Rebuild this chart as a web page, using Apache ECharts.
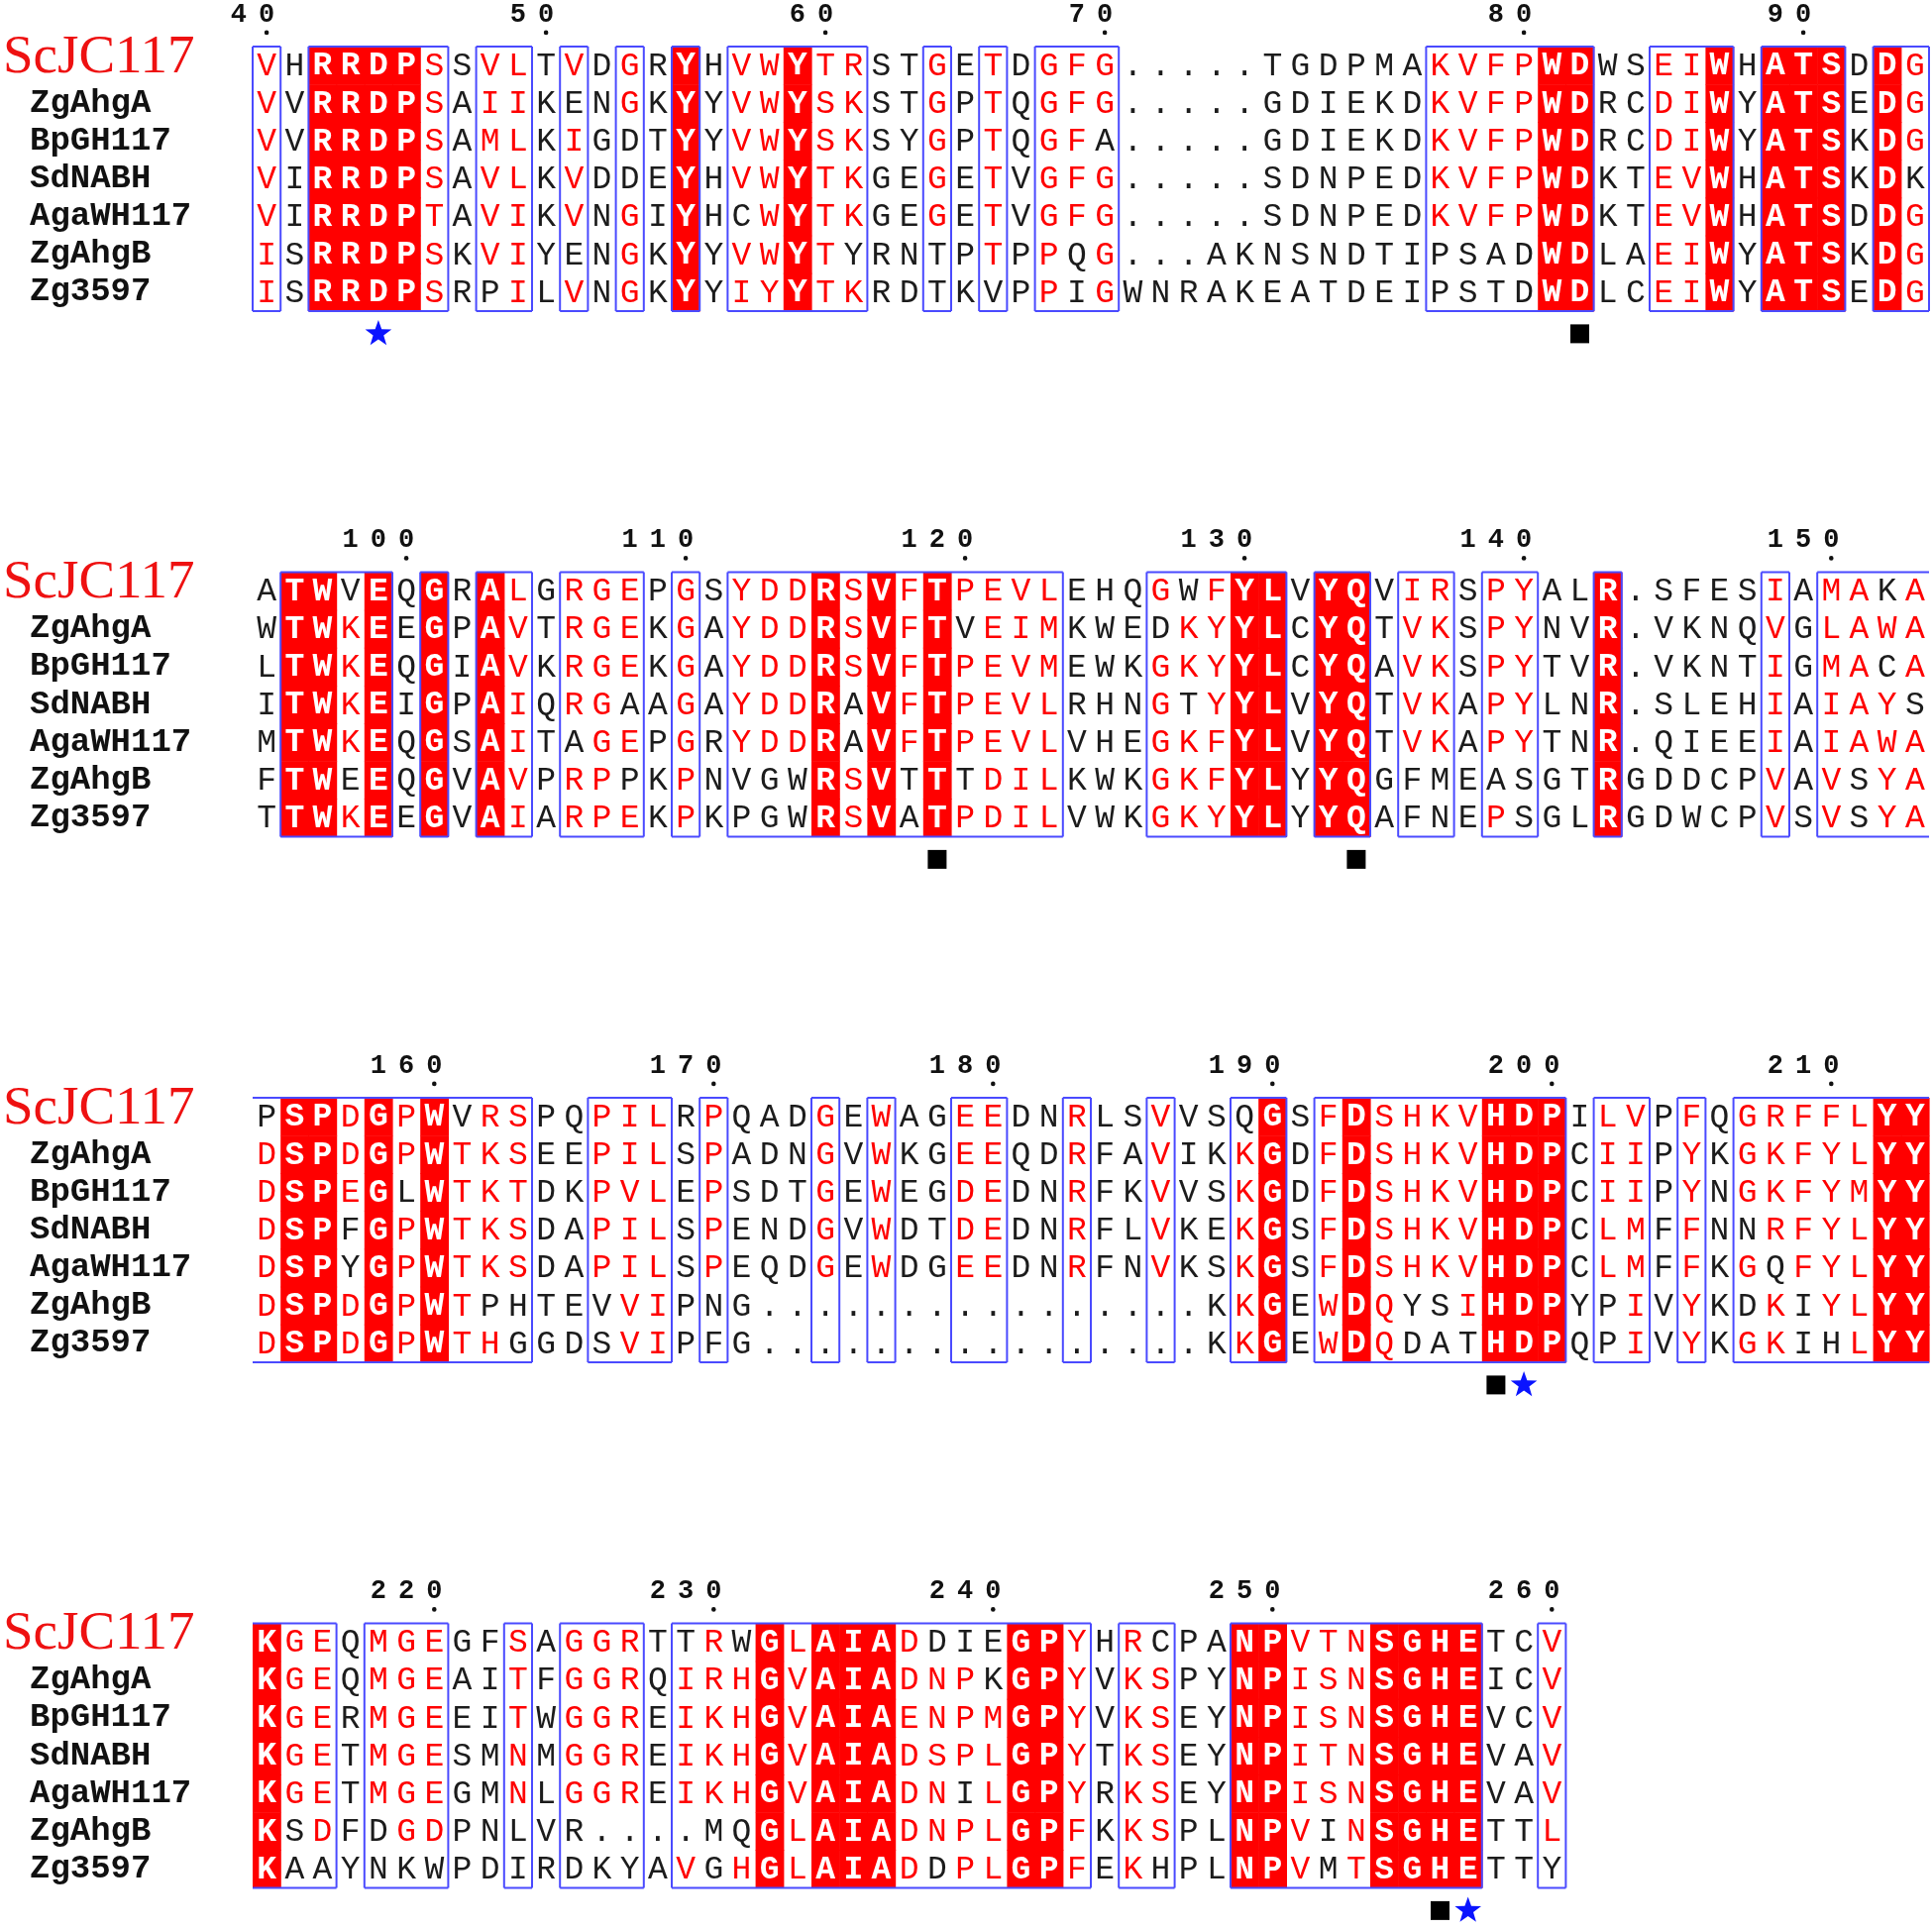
<!DOCTYPE html>
<html>
<head>
<meta charset="UTF-8">
<title>GH117 alignment</title>
<script src="https://cdn.jsdelivr.net/npm/echarts@6/dist/echarts.min.js"></script>
<style>
  html, body { margin: 0; background: #fff; }
  #main { width: 1950px; height: 1948px; }
</style>
</head>
<body>
<div id="main"></div>
<script>
// sequence names, top to bottom
var names = ['ScJC117', 'ZgAhgA', 'BpGH117', 'SdNABH', 'AgaWH117', 'ZgAhgB', 'Zg3597'];

// ScJC117 residue number of the first column of each block
var firstResidue = [40, 95, 154, 214];

// column class per block: R = strictly conserved (white on red), s = similar (red letters), - = none
var colClass = [
  ['s-RRRRs-ss', '-s-s-R-ssR', 'ss--s-s-ss', 's---------', '--ssssRR--', 'ssR-RRR-Rs'].join(''),
  ['-RRsR-R-Rs', '-sss-s-sss', 'RsRsRssss-', '--sssRR-RR', '-ss-ss--R-', '----s-ssss'].join(''),
  ['sRRsRsRsss', '--sss-s---', 's-s--ss--s', '--s--sR-sR', 'ssssRRR-ss', '-s-sssssRR'].join(''),
  ['Rss-sss--s', '-sss-sssRs', 'RRRssssRRs', '-ss--RRsss', 'RRRR--s'].join('')
];

// aligned sequences per block (same order as names)
// lower case = residue left black inside a similar column
var block1 = [
  'VHRRDPSSVLTVDGRY' + 'HVWYTRSTGETDGFG' + '.....' + 'TGDPMA' + 'KVFPWD' + 'WSEIWHATSDDG',
  'VVRRDPSAIIKeNGKY' + 'YVWYSKSTGPTQGFG' + '.....' + 'GDIEKD' + 'KVFPWD' + 'RCDIWYATSEDG',
  'VVRRDPSAMLKIGdTY' + 'YVWYSKSYGPTQGFa' + '.....' + 'GDIEKD' + 'KVFPWD' + 'RCDIWYATSKDG',
  'VIRRDPSAVLKVDdEY' + 'HVWYTKGEGETVGFG' + '.....' + 'SDNPED' + 'KVFPWD' + 'KTEVWHATSKDk',
  'VIRRDPTAVIKVNGIY' + 'HcWYTKGEGETVGFG' + '.....' + 'SDNPED' + 'KVFPWD' + 'KTEVWHATSDDG',
  'ISRRDPSKVIYeNGKY' + 'YVWYTyRNtPTPPqG' + '...AKNSNDTI' + 'psadWD' + 'LAEIWYATSKDG',
  'ISRRDPSRpILVNGKY' + 'YIYYTKRDtKvPPiG' + 'WNRAKEATDEI' + 'pstdWD' + 'LCEIWYATSEDG'
];
var block2 = [
  'ATWvEQGRALG' + 'RGEPGS' + 'YDDRSVFTPEVL' + 'EHQGwFYLV' + 'YQVIRSPYALR' + '.SFESIAMAkA',
  'WTWKEEGPAVT' + 'RGEKGA' + 'YDDRSVFTvEIM' + 'KWEdKYYLC' + 'YQTVKSPYNVR' + '.VKNQVGLAWA',
  'LTWKEQGIAVK' + 'RGEKGA' + 'YDDRSVFTPEVM' + 'EWKGKYYLC' + 'YQAVKSPYTVR' + '.VKNTIGMAcA',
  'ITWKEIGPAIQ' + 'RGaAGA' + 'YDDRaVFTPEVL' + 'RHNGtYYLV' + 'YQTVKAPYLNR' + '.SLEHIAIAYs',
  'MTWKEQGSAIT' + 'aGEPGR' + 'YDDRaVFTPEVL' + 'VHEGKFYLV' + 'YQTVKAPYTNR' + '.QIEEIAIAWA',
  'FTWeEQGVAVP' + 'RPpKPN' + 'vgwRSVtTtDIL' + 'KWKGKFYLY' + 'YQGfmEasGTR' + 'GDDCPVAVsYA',
  'TTWKEEGVAIA' + 'RPEKPK' + 'pgwRSVaTPDIL' + 'VWKGKYYLY' + 'YQAfnEPsGLR' + 'GDWCPVSVsYA'
];
var block3 = [
  'pSPDGPWvRS' + 'PQ' + 'PIL' + 'R' + 'PQADGEWAGEEDNRLSVVSqGS' + 'FDSHKVHDP' + 'ILVPFQ' + 'GRFFLYY',
  'DSPDGPWTKS' + 'EE' + 'PIL' + 'S' + 'PADNGVWKGEEQDRFAVIKKGD' + 'FDSHKVHDP' + 'CIIPYK' + 'GKFYLYY',
  'DSPEGlWTKT' + 'DK' + 'PVL' + 'E' + 'PSDTGEWEGDEDNRFKVVSKGD' + 'FDSHKVHDP' + 'CIIPYN' + 'GKFYMYY',
  'DSPfGPWTKS' + 'DA' + 'PIL' + 'S' + 'PENDGVWDTDEDNRFLVKEKGS' + 'FDSHKVHDP' + 'CLMFFN' + 'nRFYLYY',
  'DSPyGPWTKS' + 'DA' + 'PIL' + 'S' + 'PEQDGEWDGEEDNRFNVKSKGS' + 'FDSHKVHDP' + 'CLMFFK' + 'GqFYLYY',
  'DSPDGPWTph' + 'TE' + 'vVI' + 'P' + 'nG' + '........' + '........' + 'KKGE' + 'WDQysIHDP' + 'YpIVYK' + 'dKiYLYY',
  'DSPDGPWTHg' + 'GD' + 'sVI' + 'P' + 'fG' + '........' + '........' + 'KKGE' + 'WDQdatHDP' + 'QpIVYK' + 'GKihLYY'
];
var block4 = [
  'KGEQMGEGFSA' + 'GGRTtRwG' + 'LAIADdieGPY' + 'HRcPA' + 'NPVTNSGHE' + 'TCV',
  'KGEQMGEAITF' + 'GGRQIRHG' + 'VAIADNPkGPY' + 'VKSPY' + 'NPISNSGHE' + 'ICV',
  'KGERMGEEITW' + 'GGREIKHG' + 'VAIAENPMGPY' + 'VKSEY' + 'NPISNSGHE' + 'VCV',
  'KGETMGESMNM' + 'GGREIKHG' + 'VAIADSPLGPY' + 'TKSEY' + 'NPITNSGHE' + 'VAV',
  'KGETMGEGMNL' + 'GGREIKHG' + 'VAIADNiLGPY' + 'RKSEY' + 'NPISNSGHE' + 'VAV',
  'KsDFdGDPNlV' + 'r....mqG' + 'LAIADNPLGPF' + 'KKSPL' + 'NPViNSGHE' + 'TTL',
  'KaaYnkwPDiR' + 'dkyAVgHG' + 'LAIADdPLGPF' + 'EKhPL' + 'NPVmTSGHE' + 'TTy'
];
var blocks = [block1, block2, block3, block4];

// symbols under columns: [column, kind]
var marks = [
  [[4, 'star'], [47, 'square']],
  [[24, 'square'], [39, 'square']],
  [[44, 'square'], [45, 'star']],
  [[42, 'square'], [43, 'star']]
];

var RED = '#ff0000';
var INK = '#1c1c1c';
var FRAME = '#4a4aff';
var MONO = '"Liberation Mono", "DejaVu Sans Mono", monospace';

var chart = echarts.init(document.getElementById('main'), null, { renderer: 'canvas' });

var cols = [];
for (var i = 0; i < 60; i++) cols.push(String(i));

// per block: cells, frames, ruler numbers
var cells = [], frames = [], ruler = [];
blocks.forEach(function (rows, b) {
  var cls = colClass[b];
  var list = [];
  rows.forEach(function (seq, r) {
    for (var c = 0; c < seq.length; c++) {
      list.push({ col: c, row: r, ch: seq[c], cls: cls[c] });
    }
  });
  cells.push(list);

  // frames = runs of consecutive boxed columns
  var fr = [];
  var c0 = 0;
  while (c0 < cls.length) {
    if (cls[c0] === '-') { c0++; continue; }
    var c1 = c0;
    while (c1 + 1 < cls.length && cls[c1 + 1] !== '-') c1++;
    var prev = colClass[b - 1], next = colClass[b + 1];
    fr.push({
      a: c0, z: c1,
      openL: c0 === 0 && prev && prev[prev.length - 1] !== '-',
      openR: c1 === cls.length - 1 && next && next[0] !== '-'
    });
    c0 = c1 + 1;
  }
  frames.push(fr);

  // ruler: every tenth ScJC117 residue
  var nums = [];
  var pos = firstResidue[b];
  var ref = rows[0];
  for (var k = 0; k < ref.length; k++) {
    if (ref[k] === '.') continue;
    if (pos % 10 === 0) nums.push({ col: k, n: pos });
    pos++;
  }
  ruler.push(nums);
});

function cellRender(b) {
  return function (params, api) {
    var c = cells[b][params.dataIndex];
    var p = api.coord([c.col, c.row]);
    var s = api.size([1, 1]);
    var up = c.ch.toUpperCase();
    var kids = [];
    if (c.cls === 'R') {
      kids.push({
        type: 'rect',
        shape: { x: p[0] - s[0] / 2, y: p[1] - s[1] / 2, width: s[0] + 0.6, height: s[1] + 0.6 },
        style: { fill: RED }
      });
    }
    var color = INK;
    if (c.cls === 'R') color = '#fff';
    else if (c.cls === 's' && c.ch !== '.' && c.ch === up) color = RED;
    kids.push({
      type: 'text',
      style: {
        text: up, x: p[0], y: p[1] + 1, align: 'center', verticalAlign: 'middle',
        fill: color, font: (c.cls === 'R' ? 'bold ' : '') + '33px ' + MONO
      }
    });
    return { type: 'group', children: kids };
  };
}

function frameRender(b) {
  return function (params, api) {
    var f = frames[b][params.dataIndex];
    var p0 = api.coord([f.a, 0]);
    var p1 = api.coord([f.z, 6]);
    var s = api.size([1, 1]);
    var x0 = p0[0] - s[0] / 2, x1 = p1[0] + s[0] / 2;
    var y0 = p0[1] - s[1] / 2, y1 = p1[1] + s[1] / 2;
    var st = { stroke: FRAME, lineWidth: 2, fill: null };
    var kids = [
      { type: 'line', shape: { x1: x0, y1: y0, x2: x1, y2: y0 }, style: st },
      { type: 'line', shape: { x1: x0, y1: y1, x2: x1, y2: y1 }, style: st }
    ];
    if (!f.openL) kids.push({ type: 'line', shape: { x1: x0, y1: y0, x2: x0, y2: y1 }, style: st });
    if (!f.openR) kids.push({ type: 'line', shape: { x1: x1, y1: y0, x2: x1, y2: y1 }, style: st });
    return { type: 'group', children: kids };
  };
}

function rulerRender(b) {
  return function (params, api) {
    var item = ruler[b][params.dataIndex];
    var p = api.coord([item.col, 0]);
    var s = api.size([1, 1]);
    var str = String(item.n);
    var kids = [];
    // one digit per column, last digit above the numbered residue
    for (var k = 0; k < str.length; k++) {
      kids.push({
        type: 'text',
        style: {
          text: str[str.length - 1 - k], x: p[0] - k * s[0], y: p[1] - 1.34 * s[1],
          align: 'center', verticalAlign: 'middle', fill: '#111', font: 'bold 27px ' + MONO
        }
      });
    }
    kids.push({ type: 'circle', shape: { cx: p[0], cy: p[1] - 0.87 * s[1], r: 2.3 }, style: { fill: '#111' } });
    return { type: 'group', children: kids };
  };
}

function markRender(b) {
  return function (params, api) {
    var m = marks[b][params.dataIndex];
    var p = api.coord([m[0], 6]);
    var s = api.size([1, 1]);
    var cx = p[0], cy = p[1] + 1.1 * s[1];
    if (m[1] === 'square') {
      return { type: 'rect', shape: { x: cx - 9.5, y: cy - 9.5, width: 19, height: 19 }, style: { fill: '#000' } };
    }
    var pts = [];
    for (var k = 0; k < 10; k++) {
      var rad = k % 2 === 0 ? 14 : 5.6;
      var ang = -Math.PI / 2 + k * Math.PI / 5;
      pts.push([cx + rad * Math.cos(ang), cy + rad * Math.sin(ang)]);
    }
    return { type: 'polygon', shape: { points: pts }, style: { fill: '#0a14ff' } };
  };
}

var grids = [], xAxes = [], yAxes = [], series = [];
blocks.forEach(function (rows, b) {
  grids.push({ left: 255, width: 1692, top: 47 + 530.5 * b, height: 267 });
  xAxes.push({ type: 'category', gridIndex: b, data: cols, show: false });
  yAxes.push({
    type: 'category', gridIndex: b, data: names, inverse: true,
    axisLine: { show: false }, axisTick: { show: false }, splitLine: { show: false },
    axisLabel: {
      interval: 0, align: 'left', margin: 252,
      formatter: function (v) { return v === names[0] ? '{a|' + v + '}' : '{b|' + v + '}'; },
      rich: {
        a: { fontFamily: '"Liberation Serif", serif', fontSize: 55, color: '#ee1111', padding: [0, 0, 16, 0] },
        b: { fontFamily: MONO, fontWeight: 'bold', fontSize: 34, color: '#111', padding: [0, 0, 0, 27] }
      }
    }
  });
  series.push({
    type: 'custom', name: 'residues ' + b, xAxisIndex: b, yAxisIndex: b, z: 2,
    renderItem: cellRender(b),
    data: cells[b].map(function (c) { return [c.col, c.row]; })
  });
  series.push({
    type: 'custom', name: 'frames ' + b, xAxisIndex: b, yAxisIndex: b, z: 3,
    renderItem: frameRender(b),
    data: frames[b].map(function (f) { return [f.a, 0, f.z]; })
  });
  series.push({
    type: 'custom', name: 'ruler ' + b, xAxisIndex: b, yAxisIndex: b, z: 3,
    renderItem: rulerRender(b),
    data: ruler[b].map(function (r) { return [r.col, 0]; })
  });
  series.push({
    type: 'custom', name: 'marks ' + b, xAxisIndex: b, yAxisIndex: b, z: 3,
    renderItem: markRender(b),
    data: marks[b].map(function (m) { return [m[0], 6]; })
  });
});

chart.setOption({
  backgroundColor: '#fff',
  animation: false,
  grid: grids,
  xAxis: xAxes,
  yAxis: yAxes,
  series: series
});
</script>
</body>
</html>
